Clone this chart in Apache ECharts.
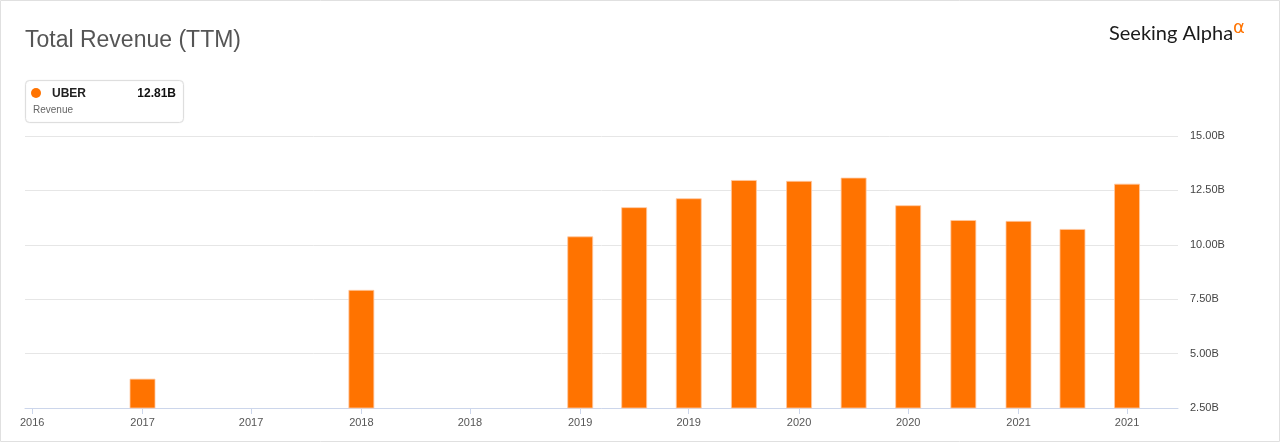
<!doctype html>
<html>
<head>
    <meta charset="utf-8">
    <title>Total Revenue (TTM)</title>
    <script src="https://cdn.jsdelivr.net/npm/echarts@6/dist/echarts.min.js"></script>
    <style>
        html, body { margin: 0; padding: 0; background: #fff; }
        #chart { width: 1280px; height: 442px; }
    </style>
</head>
<body>
<div id="chart"></div>
<script type="text/javascript">

    // quarter end dates (TTM revenue, billions USD)
    var dates = ['2016-12-31', '2017-12-31', '2018-12-31', '2019-03-31', '2019-06-30',
                 '2019-09-30', '2019-12-31', '2020-03-31', '2020-06-30', '2020-09-30',
                 '2020-12-31', '2021-03-31', '2021-06-30'];
    var revenue = [3.85, 7.93, 10.39, 11.73, 12.14, 12.98, 12.94, 13.09, 11.82, 11.14, 11.10, 10.73, 12.81];

    // x-axis tick dates (every half year)
    var tickDates = ['2016-06-30', '2016-12-31', '2017-06-30', '2017-12-31', '2018-06-30', '2018-12-31',
                     '2019-06-30', '2019-12-31', '2020-06-30', '2020-12-31', '2021-06-30'];
    var yTicks = [2.5, 5, 7.5, 10, 12.5, 15];

    var ticker = 'UBER';
    var metric = 'Revenue';
    var orange = '#ff7300';
    var font = 'Arial, "Liberation Sans", sans-serif';

    function d(s) {
        var p = s.split('-');
        return new Date(+p[0], p[1] - 1, +p[2]).getTime();
    }

    var seriesData = dates.map(function (s, i) { return [d(s), revenue[i]]; });
    var tickValues = tickDates.map(d);
    var lastValue = revenue[revenue.length - 1].toFixed(2) + 'B';

    var myChart = echarts.init(document.getElementById('chart'));

    var option = {
        animation: false,
        title: {
            text: 'Total Revenue (TTM)',
            left: 20,
            top: 24,
            textStyle: { fontFamily: font, fontSize: 23, fontWeight: 'normal', color: '#555' }
        },
        grid: { left: 25, right: 102, top: 136, bottom: 34 },
        xAxis: {
            // timestamps on a plain value axis, ticks placed at half-year ends
            type: 'value',
            min: d('2016-06-18'),
            max: d('2021-09-23'),
            scale: true,
            axisLine: { onZero: false, lineStyle: { color: '#ccd6eb', width: 1 } },
            axisTick: { show: true, length: 6, lineStyle: { color: '#ccd6eb' }, customValues: tickValues },
            splitLine: { show: false },
            axisLabel: {
                customValues: tickValues,
                margin: 9,
                fontFamily: font,
                fontSize: 11,
                color: '#555',
                formatter: function (v) {
                    return String(new Date(v + 86400000).getFullYear());
                }
            }
        },
        yAxis: {
            type: 'value',
            position: 'right',
            min: yTicks[0],
            max: yTicks[yTicks.length - 1],
            interval: 2.5,
            axisLine: { show: false },
            axisTick: { show: false },
            splitLine: { lineStyle: { color: '#e6e6e6', width: 1 } },
            axisLabel: {
                margin: 12,
                fontFamily: font,
                fontSize: 11,
                color: '#444',
                formatter: function (v) { return v.toFixed(2) + 'B'; }
            }
        },
        series: [{
            name: ticker,
            type: 'bar',
            barWidth: 26,
            data: seriesData,
            itemStyle: { color: orange, borderColor: 'rgba(255,200,160,0.8)', borderWidth: 1 }
        }],
        graphic: [
            // outer frame
            {
                type: 'rect', silent: true,
                shape: { x: 0.5, y: 0.5, width: 1279, height: 441 },
                style: { fill: 'none', stroke: '#e0e0e0', lineWidth: 1 }
            },
            // legend card
            {
                type: 'group', left: 25, top: 80,
                children: [
                    { type: 'rect', shape: { x: 0.5, y: 0.5, width: 158, height: 42, r: 4 },
                      style: { fill: '#fff', stroke: '#dedede', lineWidth: 1,
                               shadowBlur: 2, shadowColor: 'rgba(0,0,0,0.06)' } },
                    { type: 'circle', shape: { cx: 11, cy: 13, r: 5 }, style: { fill: orange } },
                    { type: 'text', x: 27, y: 8,
                      style: { text: ticker, font: 'bold 12px ' + font, fill: '#222' } },
                    { type: 'text', x: 151, y: 8,
                      style: { text: lastValue, font: 'bold 12px ' + font, fill: '#111', textAlign: 'right' } },
                    { type: 'text', x: 8, y: 25,
                      style: { text: metric, font: '10px ' + font, fill: '#666' } }
                ]
            },
            // logo
            {
                type: 'text', left: 1109, top: 24,
                style: { text: 'Seeking Alpha', font: '20px Lato, "Open Sans", sans-serif', fill: '#1a1a1a' }
            },
            {
                type: 'text', left: 1233, top: 19,
                style: { text: '\u03b1', font: '18px "DejaVu Sans", sans-serif', fill: orange }
            }
        ]
    };

    myChart.setOption(option);

</script>

</body>
</html>
